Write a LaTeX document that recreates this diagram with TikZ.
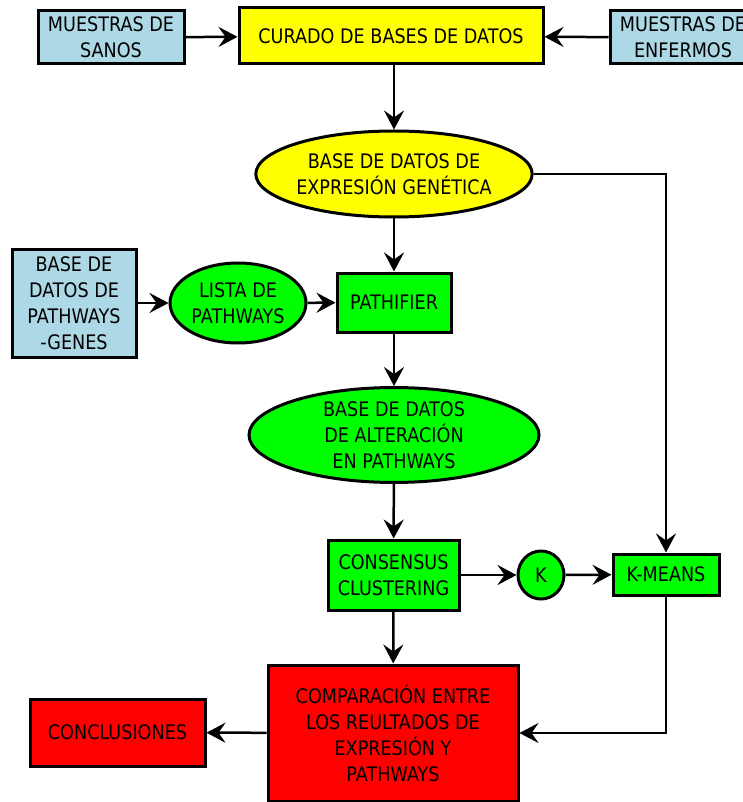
\documentclass[tikz,border=0pt]{standalone}
\usepackage{fontspec}
\setmainfont[FakeStretch=0.88]{DejaVu Sans}
\usetikzlibrary{shapes.geometric,arrows.meta}
\definecolor{lblue}{RGB}{173,216,230}
\definecolor{yel}{RGB}{255,255,0}
\definecolor{grn}{RGB}{0,255,0}
\definecolor{rd}{RGB}{255,0,0}
\begin{document}
\begin{tikzpicture}[x=1pt,y=-1pt,
  every node/.style={font=\fontsize{20}{26}\selectfont, align=center, inner sep=0pt, draw=black, line width=3pt},
  conn/.style={line width=2.5pt, -{Stealth[length=19pt,width=20pt,inset=7pt]}}]
\useasboundingbox (0,0) rectangle (743,802);
\clip (0,0) rectangle (743,802);
\fill[white] (0,0) rectangle (743,802);
% top row
\node[rectangle, fill=lblue, minimum width=146pt, minimum height=53pt] (sanos) at (111,37.5) {MUESTRAS DE\\SANOS};
\node[rectangle, fill=yel, minimum width=304pt, minimum height=56pt] (curado) at (391,36) {CURADO DE BASES DE DATOS};
\node[rectangle, fill=lblue, minimum width=146pt, minimum height=53pt] (enf) at (683,37.5) {MUESTRAS DE\\ENFERMOS};
% expression db
\node[ellipse, fill=yel, minimum width=258pt, minimum height=86pt] (expr) at (394,174) {BASE DE DATOS DE\\EXPRESIÓN GENÉTICA};
% pathways row
\node[rectangle, fill=lblue, minimum width=124pt, minimum height=108pt] (pwg) at (74,303) {BASE DE\\DATOS DE\\PATHWAYS\\-GENES};
\node[ellipse, fill=grn, minimum width=136pt, minimum height=80pt] (lista) at (238,303) {LISTA DE\\PATHWAYS};
\node[rectangle, fill=grn, minimum width=114pt, minimum height=59pt] (path) at (394,302.5) {PATHIFIER};
% alteration db
\node[ellipse, fill=grn, minimum width=290pt, minimum height=84pt] (alt) at (394,435) {BASE DE DATOS\\DE ALTERACIÓN\\EN PATHWAYS};
% clustering row
\node[rectangle, fill=grn, minimum width=131pt, minimum height=70pt] (cons) at (393.5,575) {CONSENSUS\\CLUSTERING};
\node[ellipse, fill=grn, minimum width=46pt, minimum height=48pt] (k) at (541,575) {K};
\node[rectangle, fill=grn, minimum width=106pt, minimum height=41pt] (km) at (666,574.5) {K-MEANS};
% bottom row
\node[rectangle, fill=rd, minimum width=250pt, minimum height=136pt] (comp) at (393,733) {COMPARACIÓN ENTRE\\LOS REULTADOS DE\\EXPRESIÓN Y\\PATHWAYS};
\node[rectangle, fill=rd, minimum width=175pt, minimum height=67pt] (concl) at (117.5,732.5) {CONCLUSIONES};
% connectors
\draw[conn] (sanos) -- (curado);
\draw[conn] (enf) -- (curado);
\draw[conn] (curado.south -| expr.north) -- (expr.north);
\draw[conn] (expr) -- (path);
\draw[conn] (pwg) -- (lista);
\draw[conn] (lista) -- (path);
\draw[conn] (path) -- (alt);
\draw[conn] (alt) -- (cons);
\draw[conn] (cons) -- (k);
\draw[conn] (k) -- (km);
\draw[conn] (cons) -- (comp);
\draw[conn] (expr.east) -| (km.north);
\draw[conn] (km.south) |- (comp.east);
\draw[conn] (comp) -- (concl);
\end{tikzpicture}
\end{document}
